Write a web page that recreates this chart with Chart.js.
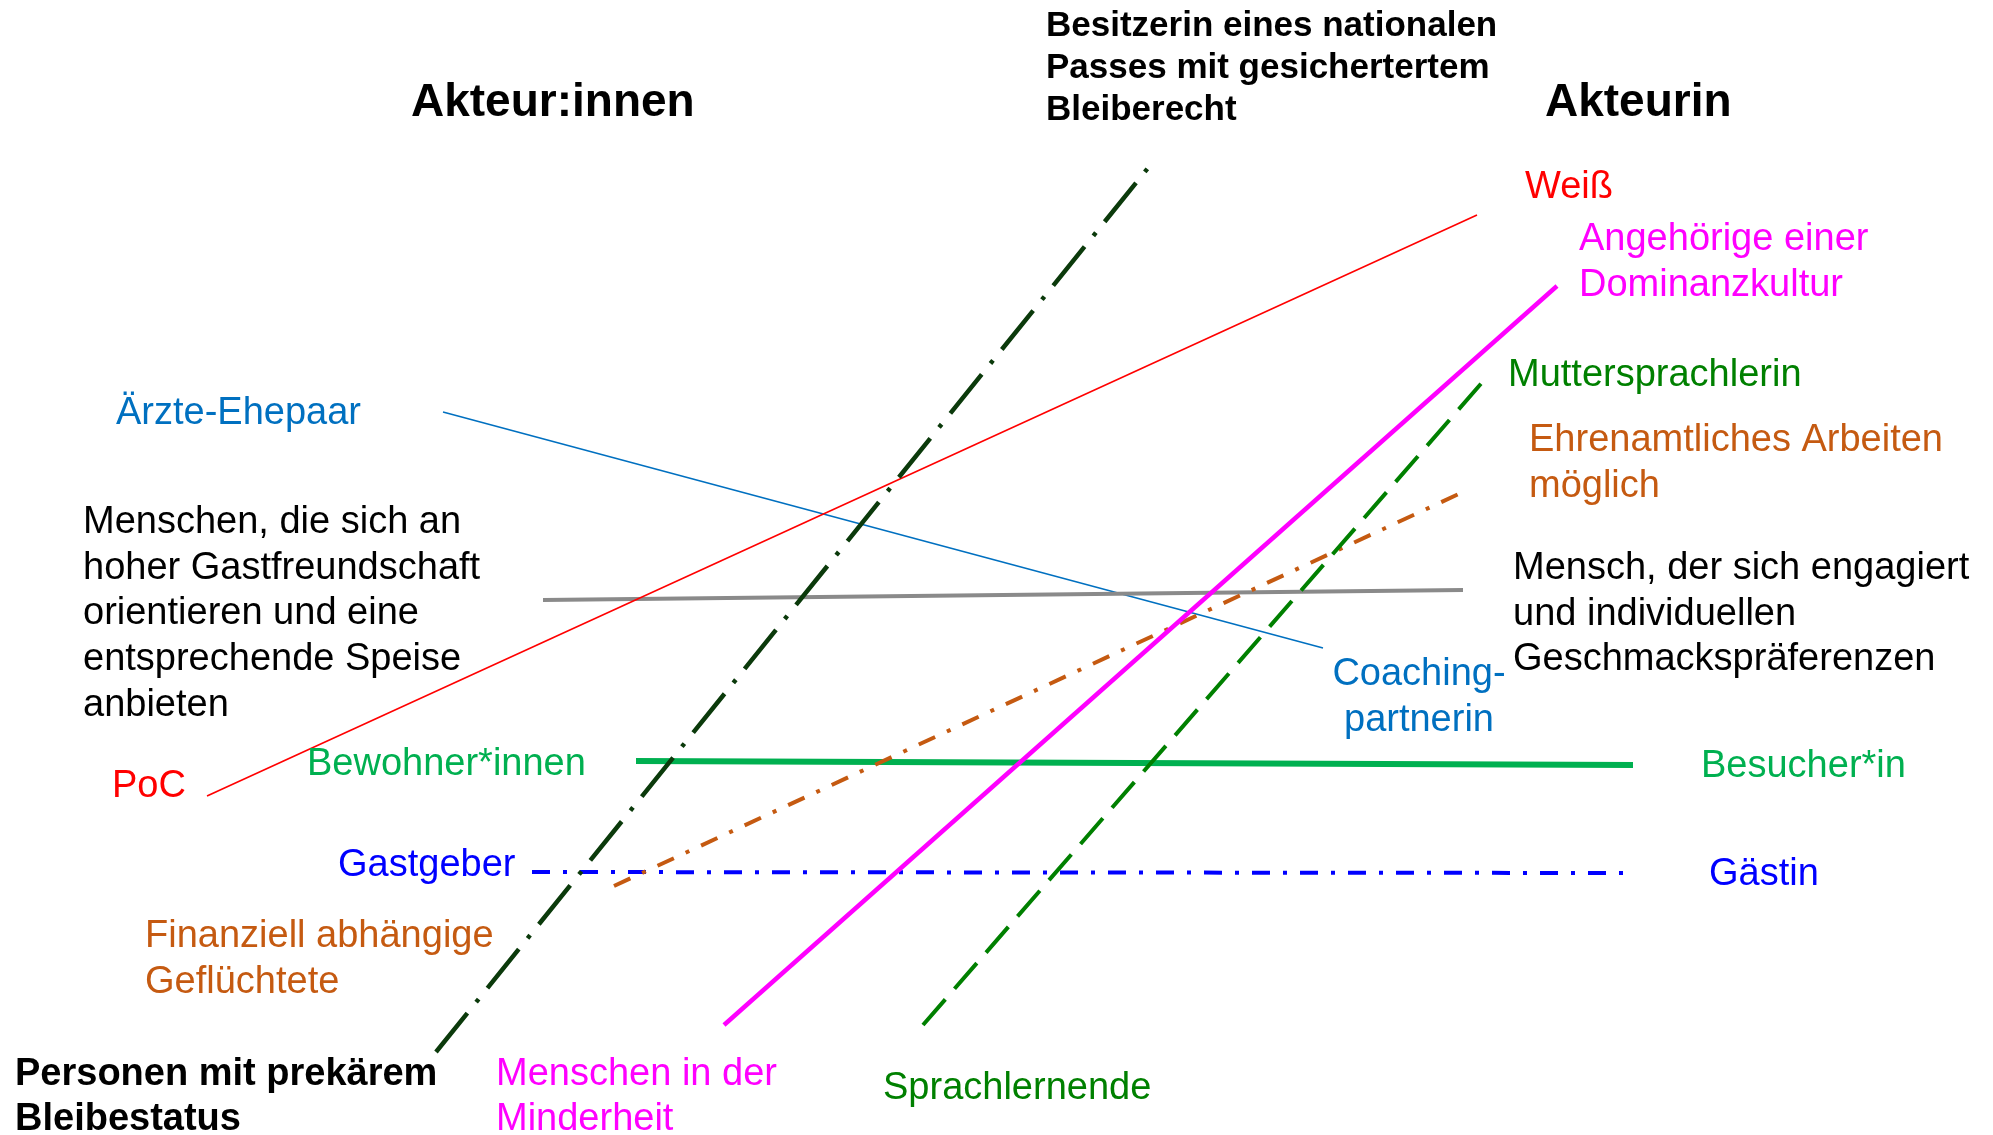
<!DOCTYPE html>
<html>
<head>
<meta charset="utf-8">
<script src="https://cdn.jsdelivr.net/npm/chart.js@4"></script>
<style>
html,body{margin:0;padding:0;background:#fff;overflow:hidden;}
#wrap{width:1993px;height:1135px;}
canvas{display:block;}
</style>
</head>
<body>
<div id="wrap"><canvas id="c" width="1993" height="1135"></canvas></div>
<script>
// ---- data: line endpoints (diagram coordinates, y grows downward) ----
const lineNames = [
  "Status", "Hautfarbe", "Kultur", "Sprache", "Arbeit",
  "Gastfreundschaft", "Coaching", "Wohnen", "Gast"
];
const startX = [436, 207, 724, 923, 614, 543, 443, 636, 532];
const startY = [1052, 796, 1025, 1025, 886, 600, 412, 761, 872];
const endX   = [1152, 1477, 1557, 1486, 1463, 1463, 1323, 1633, 1634];
const endY   = [163, 215, 286, 378, 492, 590, 648, 765, 873];

// ---- labels ----
const labelTexts = [
  ["Akteur:innen"],
  ["Akteurin"],
  ["Besitzerin eines nationalen", "Passes mit gesichertertem", "Bleiberecht"],
  ["Weiß"],
  ["Angehörige einer", "Dominanzkultur"],
  ["Muttersprachlerin"],
  ["Ehrenamtliches Arbeiten", "möglich"],
  ["Ärzte-Ehepaar"],
  ["Menschen, die sich an", "hoher Gastfreundschaft", "orientieren und eine", "entsprechende Speise", "anbieten"],
  ["Mensch, der sich engagiert", "und individuellen", "Geschmackspräferenzen"],
  ["Coaching-", "partnerin"],
  ["PoC"],
  ["Bewohner*innen"],
  ["Besucher*in"],
  ["Gastgeber"],
  ["Gästin"],
  ["Finanziell abhängige", "Geflüchtete"],
  ["Personen mit prekärem", "Bleibestatus"],
  ["Menschen in der", "Minderheit"],
  ["Sprachlernende"]
];
const labelX = [411, 1545, 1046, 1525, 1579, 1508, 1529, 116, 83, 1513, 1419, 112, 307, 1701, 338, 1709, 145, 15, 496, 883];
const labelY = [116, 116, 36, 198, 250, 386, 451, 424, 533, 579, 685, 797, 775, 777, 876, 885, 947, 1085, 1085, 1099];

// ---- styles ----
const lineStyles = [
  {color:"#0b3a0b", width:4.5, dash:[50,14,4,14]},
  {color:"#ff0000", width:1.6, dash:[]},
  {color:"#ff00ff", width:4.5, dash:[]},
  {color:"#008000", width:4, dash:[34,14]},
  {color:"#c55a11", width:4, dash:[18,13,4,13]},
  {color:"#8a8a8a", width:4, dash:[]},
  {color:"#0070c0", width:1.6, dash:[]},
  {color:"#00b050", width:6, dash:[]},
  {color:"#0000ff", width:4, dash:[18,13,4,13]}
];
const labelStyles = [
  {color:"#000", size:46, bold:true, align:"left", lh:46},
  {color:"#000", size:46, bold:true, align:"left", lh:46},
  {color:"#000", size:35, bold:true, align:"left", lh:42},
  {color:"#ff0000", size:38, bold:false, align:"left", lh:45.7},
  {color:"#ff00ff", size:38, bold:false, align:"left", lh:45.7},
  {color:"#008000", size:38, bold:false, align:"left", lh:45.7},
  {color:"#c55a11", size:38, bold:false, align:"left", lh:45.7},
  {color:"#0070c0", size:38, bold:false, align:"left", lh:45.7},
  {color:"#000", size:38, bold:false, align:"left", lh:45.7},
  {color:"#000", size:38, bold:false, align:"left", lh:45.7},
  {color:"#0070c0", size:38, bold:false, align:"center", lh:45.7},
  {color:"#ff0000", size:38, bold:false, align:"left", lh:45.7},
  {color:"#00b050", size:38, bold:false, align:"left", lh:45.7},
  {color:"#00b050", size:38, bold:false, align:"left", lh:45.7},
  {color:"#0000ff", size:38, bold:false, align:"left", lh:45.7},
  {color:"#0000ff", size:38, bold:false, align:"left", lh:45.7},
  {color:"#c55a11", size:38, bold:false, align:"left", lh:45.7},
  {color:"#000", size:38, bold:true, align:"left", lh:45},
  {color:"#ff00ff", size:38, bold:false, align:"left", lh:45},
  {color:"#008000", size:38, bold:false, align:"left", lh:45.7}
];

const datasets = lineNames.map((name, i) => ({
  label: name,
  data: [{x:startX[i], y:startY[i]}, {x:endX[i], y:endY[i]}],
  showLine: true,
  fill: false,
  pointRadius: 0,
  pointHoverRadius: 0,
  borderColor: lineStyles[i].color,
  borderWidth: lineStyles[i].width,
  borderDash: lineStyles[i].dash,
  borderCapStyle: "butt",
  tension: 0
}));

const labelPlugin = {
  id: "diagramLabels",
  afterDatasetsDraw(chart) {
    const ctx = chart.ctx;
    const xs = chart.scales.x, ys = chart.scales.y;
    ctx.save();
    ctx.textBaseline = "alphabetic";
    labelTexts.forEach((lines, i) => {
      const st = labelStyles[i];
      ctx.font = (st.bold ? "bold " : "") + st.size + "px 'Liberation Sans', Arial, sans-serif";
      ctx.fillStyle = st.color;
      ctx.textAlign = st.align;
      const px = xs.getPixelForValue(labelX[i]);
      const py = ys.getPixelForValue(labelY[i]);
      lines.forEach((t, k) => ctx.fillText(t, px, py + k * st.lh));
    });
    ctx.restore();
  }
};

new Chart(document.getElementById("c"), {
  type: "scatter",
  data: { datasets },
  options: {
    responsive: false,
    devicePixelRatio: 1,
    animation: false,
    layout: { padding: 0 },
    events: [],
    plugins: { legend: {display:false}, tooltip: {enabled:false}, title:{display:false} },
    scales: {
      x: { type: "linear", min: 0, max: 1993, display: false },
      y: { type: "linear", min: 0, max: 1135, reverse: true, display: false }
    }
  },
  plugins: [labelPlugin]
});
</script>
</body>
</html>
